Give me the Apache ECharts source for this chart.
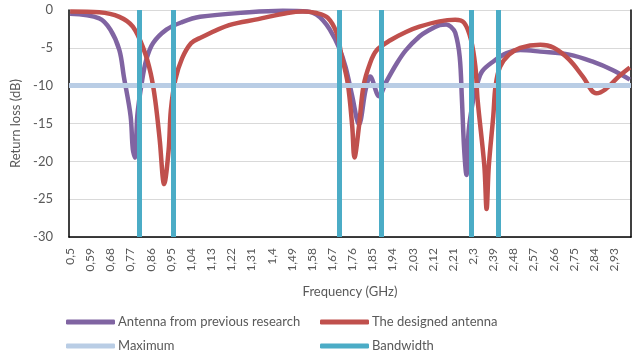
<!DOCTYPE html>
<html>
<head>
<meta charset="utf-8">
<script src="https://cdn.jsdelivr.net/npm/echarts@6/dist/echarts.min.js"></script>
<style>
  html, body { margin: 0; padding: 0; background: #fff; }
  #chart { width: 637px; height: 355px; }
</style>
</head>
<body>
<div id="chart"></div>
<script>
// frequency axis: 0,5 .. 3,0 GHz in 0,01 steps
var categories = [];
for (var i = 0; i <= 250; i++) {
    categories.push(String((50 + i) / 100).replace('.', ','));
}

// Antenna from previous research
var freqPrev = [0.50, 0.63, 0.68, 0.72, 0.74, 0.77, 0.78, 0.79, 0.80, 0.82, 0.84, 0.87, 0.93, 1.00, 1.08, 1.30, 1.45, 1.56,
    1.60, 1.63, 1.66, 1.70, 1.73, 1.76, 1.79, 1.82, 1.84, 1.88, 1.91, 1.96, 2.00, 2.06, 2.10, 2.15, 2.18, 2.20, 2.22, 2.24, 2.25,
    2.26, 2.27, 2.28, 2.30, 2.32, 2.34, 2.39, 2.45, 2.51, 2.60, 2.73, 2.84, 2.92, 3.00];
var lossPrev = [-0.5, -1.1, -2.6, -5.3, -8.8, -14, -18.4, -19.5, -14, -9.6, -6.6, -4.4, -2.6, -1.6, -0.9, -0.3, -0.1, -0.2,
    -0.6, -1.4, -2.6, -4.9, -7.5, -11.4, -15.1, -10.5, -8.8, -11.4, -9.6, -7.0, -5.3, -3.5, -2.7, -2.0, -1.9, -2.2, -3.0, -6.2, -11.9,
    -18.5, -21.8, -16, -11.9, -9.6, -8.1, -6.8, -5.7, -5.3, -5.5, -5.9, -6.9, -7.9, -9.2];

// The designed antenna
var freqDesigned = [0.50, 0.63, 0.72, 0.78, 0.83, 0.86, 0.88, 0.90, 0.92, 0.94, 0.95, 0.97, 1.00, 1.04, 1.08, 1.21, 1.34, 1.47, 1.54,
    1.60, 1.65, 1.69, 1.71, 1.74, 1.76, 1.77, 1.79, 1.81, 1.84, 1.87, 1.93, 2.00, 2.06, 2.15, 2.22, 2.26, 2.29, 2.31, 2.32, 2.35,
    2.36, 2.37, 2.39, 2.40, 2.42, 2.46, 2.51, 2.60, 2.66, 2.73, 2.79, 2.85, 2.89, 2.95, 3.00];
var lossDesigned = [-0.2, -0.3, -0.9, -2.2, -5.3, -8.4, -11.9, -17.1, -23, -18.5, -13.2, -9.2, -6.4, -4.4, -3.7, -2.0, -1.2, -0.4, -0.2,
    -0.4, -1.0, -3.0, -5.7, -9.7, -15.4, -19.5, -15.4, -10.1, -7.0, -5.3, -4.0, -2.9, -2.2, -1.5, -1.3, -1.7, -3.9, -7.5, -11.9, -20.6,
    -26.3, -20.6, -14, -10.1, -7.5, -5.9, -5.0, -4.6, -5.0, -6.6, -8.8, -11, -10.5, -8.8, -7.6];

var maximumLevel = -10;
var bandwidthFreqs = [0.81, 0.96, 1.70, 1.89, 2.29, 2.41];

var yTicks = { min: -30, max: 0, interval: 5 };

function catIndex(f) { return Math.round((f - 0.5) * 100); }
function pairs(fs, vs) {
    return fs.map(function (f, k) { return [catIndex(f), vs[k]]; });
}

var textColor = '#595959';
var font = 'Lato, "Open Sans", sans-serif';

function legendColumn(names, left) {
    return {
        data: names,
        orient: 'vertical',
        left: left, top: 315, height: 40,
        padding: 0,
        itemWidth: 49, itemHeight: 5, itemGap: 10,
        icon: 'roundRect',
        textStyle: { color: textColor, fontSize: 13, lineHeight: 14, fontFamily: font, padding: [0, 0, 0, -2] }
    };
}

var chart = echarts.init(document.getElementById('chart'));
chart.setOption({
    animation: false,
    textStyle: { fontFamily: font },
    grid: { left: 69, right: 6, top: 10, bottom: 118 },
    legend: [
        legendColumn(['Antenna from previous research', 'Maximum'], 66),
        legendColumn(['The designed antenna', 'Bandwidth'], 320)
    ],
    xAxis: {
        type: 'category',
        data: categories,
        boundaryGap: true,
        name: 'Frequency (GHz)',
        nameLocation: 'middle',
        nameGap: 48,
        nameTextStyle: { color: textColor, fontSize: 13 },
        axisLine: { onZero: false, lineStyle: { color: '#000', width: 1.5 } },
        axisTick: { show: false },
        axisLabel: { interval: 8, rotate: 90, margin: 11, color: textColor, fontSize: 12 },
        splitLine: { show: false }
    },
    yAxis: [{
        type: 'value',
        min: yTicks.min, max: yTicks.max, interval: yTicks.interval,
        name: 'Return loss (dB)',
        nameLocation: 'middle',
        nameGap: 41,
        nameTextStyle: { color: textColor, fontSize: 13 },
        axisLine: { show: true, lineStyle: { color: '#000', width: 1.5 } },
        axisTick: { show: false },
        axisLabel: { color: textColor, fontSize: 13, margin: 16 },
        splitLine: { lineStyle: { color: '#D9D9D9', width: 1 } }
    }, {
        type: 'value',
        position: 'right',
        min: yTicks.min, max: yTicks.max, interval: yTicks.interval,
        axisLine: { show: true, lineStyle: { color: '#000', width: 1.5 } },
        axisTick: { show: false },
        axisLabel: { show: false },
        splitLine: { show: false }
    }],
    series: [{
        name: 'Antenna from previous research',
        type: 'line',
        data: pairs(freqPrev, lossPrev),
        smooth: 0.35,
        symbol: 'none',
        z: 2,
        itemStyle: { color: '#8064A2' },
        lineStyle: { color: '#8064A2', width: 4.5 }
    }, {
        name: 'The designed antenna',
        type: 'line',
        data: pairs(freqDesigned, lossDesigned),
        smooth: 0.35,
        symbol: 'none',
        z: 2,
        itemStyle: { color: '#C0504D' },
        lineStyle: { color: '#C0504D', width: 4.5 }
    }, {
        name: 'Maximum',
        type: 'line',
        data: [],
        symbol: 'none',
        z: 3,
        itemStyle: { color: '#B9CDE5' },
        lineStyle: { color: '#B9CDE5', width: 5 },
        markLine: {
            silent: true,
            symbol: ['none', 'none'],
            label: { show: false },
            lineStyle: { color: '#B9CDE5', width: 5, type: 'solid' },
            data: [{ yAxis: maximumLevel }]
        }
    }, {
        name: 'Bandwidth',
        type: 'line',
        data: [],
        symbol: 'none',
        z: 4,
        itemStyle: { color: '#4BACC6' },
        lineStyle: { color: '#4BACC6', width: 5 },
        markLine: {
            silent: true,
            symbol: ['none', 'none'],
            label: { show: false },
            lineStyle: { color: '#4BACC6', width: 5, type: 'solid' },
            data: bandwidthFreqs.map(function (f) { return { xAxis: categories[catIndex(f)] }; })
        }
    }]
});
</script>
</body>
</html>
